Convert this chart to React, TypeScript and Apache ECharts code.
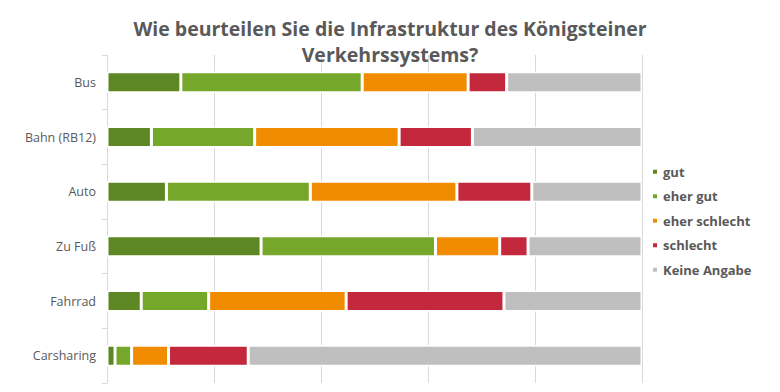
import React, { useEffect, useRef } from "react";
import * as echarts from "echarts";

const categories = ["Bus", "Bahn (RB12)", "Auto", "Zu Fuß", "Fahrrad", "Carsharing"];
const seriesNames = ["gut", "eher gut", "eher schlecht", "schlecht", "Keine Angabe"];
const gut = [13.8, 8.3, 11.1, 28.8, 6.4, 1.5];
const eherGut = [33.9, 19.3, 26.9, 32.6, 12.6, 3.1];
const eherSchlecht = [19.8, 27.0, 27.4, 12.0, 25.7, 6.9];
const schlecht = [7.2, 13.7, 14.0, 5.3, 29.5, 14.9];
const keineAngabe = [25.3, 31.7, 20.6, 21.3, 25.8, 73.6];
const colors = ["#5d8722", "#75a82a", "#f18b00", "#c3283c", "#bfbfbf"];

export default function App() {
  const ref = useRef<HTMLDivElement>(null);
  useEffect(() => {
    if (!ref.current) return;
    const chart = echarts.init(ref.current, undefined, { renderer: "svg" });
    const values = [gut, eherGut, eherSchlecht, schlecht, keineAngabe];
    chart.setOption({
      animation: false,
      title: {
        text: "Wie beurteilen Sie die Infrastruktur des Königsteiner\nVerkehrssystems?",
        left: "center",
        top: 10,
        textStyle: {
          fontFamily: "Open Sans",
          fontSize: 19.5,
          fontWeight: "bold",
          color: "#595959",
          lineHeight: 26,
        },
      },
      grid: { left: 107, right: 138, top: 55, bottom: 9, containLabel: false },
      legend: {
        orient: "vertical",
        left: 646,
        top: 158,
        itemWidth: 6,
        itemHeight: 6,
        itemGap: 7,
        icon: "rect",
        data: seriesNames,
        textStyle: { fontFamily: "Open Sans", fontSize: 13, fontWeight: "bold", color: "#595959", lineHeight: 17.5 },
      },
      xAxis: {
        type: "value",
        min: 0,
        max: 100,
        interval: 20,
        axisLabel: { show: false },
        axisLine: { show: false },
        axisTick: { show: false },
        splitLine: { show: true, lineStyle: { color: "#d9d9d9", width: 1 } },
      },
      yAxis: {
        type: "category",
        inverse: true,
        data: categories,
        axisLine: { show: true, lineStyle: { color: "#d9d9d9" } },
        axisTick: { show: true, length: 5, lineStyle: { color: "#d9d9d9" } },
        axisLabel: { fontFamily: "Open Sans", fontSize: 12.5, color: "#595959", margin: 11 },
      },
      series: seriesNames.map((name, i) => ({
        name,
        type: "bar",
        stack: "total",
        barWidth: 21,
        data: values[i],
        itemStyle: { color: colors[i], borderColor: "#ffffff", borderWidth: 1.5 },
      })),
    });
    return () => chart.dispose();
  }, []);
  return <div ref={ref} style={{ width: 780, height: 392, position: "absolute", left: 0, top: 0 }} />;
}
